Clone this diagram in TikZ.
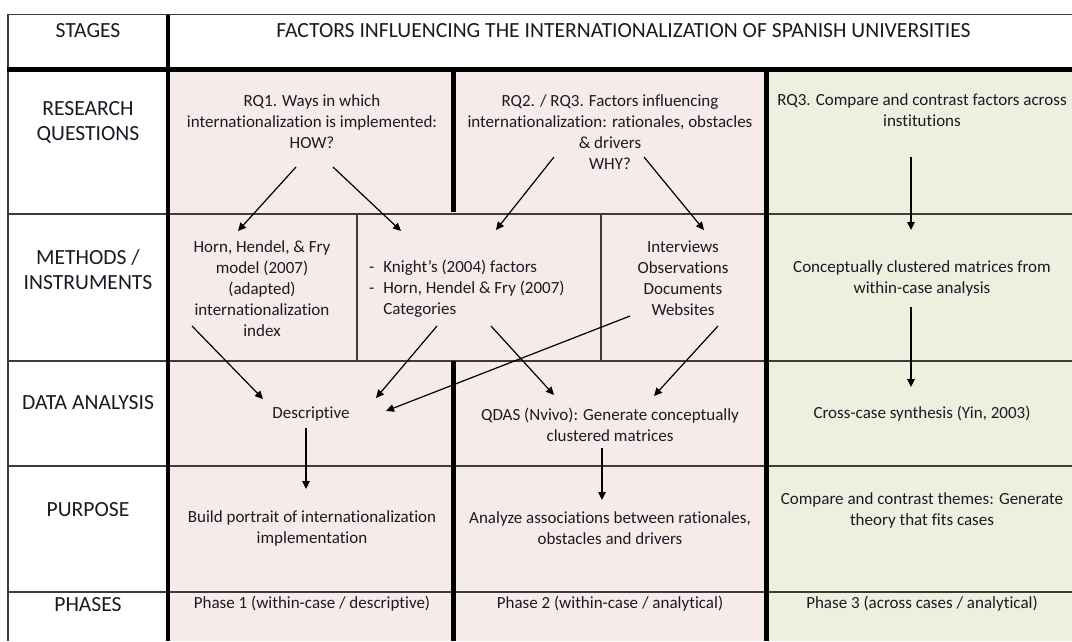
\documentclass[tikz,border=0pt]{standalone}
\usepackage{fontspec}
\setmainfont{Carlito}[Ligatures=NoCommon]
\usepackage{xcolor}
\usepackage{tikz}
\usetikzlibrary{calc}
\usetikzlibrary{arrows.meta}
\definecolor{pinkfill}{HTML}{F7EBEA}
\definecolor{greenfill}{HTML}{EBF1DE}
\definecolor{rulegray}{HTML}{3C3C3C}
\definecolor{inktext}{HTML}{1A1A24}
\newcommand{\cellfont}{\fontsize{17}{21}\selectfont}
\newcommand{\stagefont}{\fontsize{21.6}{25.5}\selectfont}
\tikzset{
  stage/.style={font=\stagefont, align=center, text=inktext, inner sep=0},
  cell/.style={font=\cellfont, align=center, text=inktext, inner sep=0},
  arr/.style={->, >={Triangle[length=8pt,width=7.5pt]}, line width=1.2pt, black},
  thinrule/.style={line width=1.4pt, rulegray},
  thickrule/.style={line width=5pt, black}
}

\begin{document}
\begin{tikzpicture}[x=1pt, y=-1pt]
\useasboundingbox (0,0) rectangle (1072,641);
% column backgrounds
\fill[pinkfill] (168,69) rectangle (766,641);
\fill[greenfill] (766,69) rectangle (1072,641);
% grid
\draw[thinrule] (7,14.5) -- (1072,14.5);
\draw[thinrule] (8,14.5) -- (8,641);
\foreach \yy in {214,361,466,592}
  \draw[thinrule] (8,\yy) -- (1072,\yy);
\draw[thinrule] (357,214) -- (357,361);
\draw[thinrule] (601,214) -- (601,361);
\draw[thickrule] (7,69) -- (1072,69);
\draw[black, line width=3.5pt] (168,14.5) -- (168,641);
\draw[thickrule] (453,69) -- (453,212);
\draw[thickrule] (453,361) -- (453,641);
\draw[thickrule] (766,69) -- (766,641);

% stages column
\node[stage] (stg) at (88,31) {STAGES};
\node[stage] (srq) at (88,122.5) {RESEARCH\\QUESTIONS};
\node[stage] (smeth) at (88,269.5) {METHODS /\\INSTRUMENTS};
\node[stage] (sdata) at (88,403) {DATA ANALYSIS};
\node[stage] (spurp) at (88,510) {PURPOSE};
\node[stage] (sphase) at (88,605) {PHASES};
\node[stage] (title) at (623.5,31) {FACTORS INFLUENCING THE INTERNATIONALIZATION OF SPANISH UNIVERSITIES};

% research questions
\node[cell] (rq1) at (312,121.5) {RQ1. Ways in which\\internationalization is implemented:\\HOW?};
\node[cell] (rq2) at (610,132) {RQ2. / RQ3. Factors influencing\\internationalization: rationales, obstacles\\\& drivers\\WHY?};
\node[cell] (rq3) at (922,110.5) {RQ3. Compare and contrast factors across\\institutions};

% methods / instruments
\node[cell] (horn) at (262,289) {Horn, Hendel, \& Fry\\model (2007)\\(adapted)\\internationalization\\index};
\node[cell, align=left, anchor=west] (knight) at (369,289)
  {-\hspace{9pt}Knight’s (2004) factors\\-\hspace{9pt}Horn, Hendel \& Fry (2007)\\\phantom{-}\hspace{9pt}Categories};
\node[cell] (intv) at (683,278.5) {Interviews\\Observations\\Documents\\Websites};
\node[cell] (concl) at (922,278.5) {Conceptually clustered matrices from\\within-case analysis};

% data analysis
\node[cell] (desc) at (311,414) {Descriptive};
\node[cell] (qdas) at (610,424.5) {QDAS (Nvivo): Generate conceptually\\clustered matrices};
\node[cell] (cross) at (922,414) {Cross-case synthesis (Yin, 2003)};

% purpose
\node[cell] (build) at (312,528.5) {Build portrait of internationalization\\implementation};
\node[cell] (analyze) at (610,528.5) {Analyze associations between rationales,\\obstacles and drivers};
\node[cell] (themes) at (922,510.5) {Compare and contrast themes: Generate\\theory that fits cases};

% phases
\node[cell] (ph1) at (312,604) {Phase 1 (within-case / descriptive)};
\node[cell] (ph2) at (610,604) {Phase 2 (within-case / analytical)};
\node[cell] (ph3) at (922,604) {Phase 3 (across cases / analytical)};

% arrows
\draw[arr] ($(rq1)+(-16,45.5)$) -- ($(horn)+(-24,-58)$);
\draw[arr] ($(rq1)+(21,45.5)$) -- ($(knight.west)+(32,-58)$);
\draw[arr] ($(rq2)+(-56,25)$) -- ($(knight.west)+(127,-59)$);
\draw[arr] ($(rq2)+(34,25)$) -- ($(intv)+(21,-48.5)$);
\draw[arr] ($(rq3)+(-11,46.5)$) -- ($(concl)+(-11,-48.5)$);
\draw[arr] ($(horn)+(-70,37)$) -- ($(desc)+(-48,-15)$);
\draw[arr] ($(knight.west)+(68,37)$) -- ($(desc)+(65,-16)$);
\draw[arr] ($(knight.west)+(122,37)$) -- ($(qdas)+(-56,-29.5)$);
\draw[arr] ($(intv)+(-53,37.5)$) -- ($(desc)+(75,-3)$);
\draw[arr] ($(intv)+(35,47.5)$) -- ($(qdas)+(44,-28.5)$);
\draw[arr] ($(concl)+(-11,28.5)$) -- ($(cross)+(-11,-27)$);
\draw[arr] ($(desc)+(-5,14)$) -- ($(build)+(-6,-39.5)$);
\draw[arr] ($(qdas)+(-8,23.5)$) -- ($(analyze)+(-8,-28.5)$);
\end{tikzpicture}
\end{document}
